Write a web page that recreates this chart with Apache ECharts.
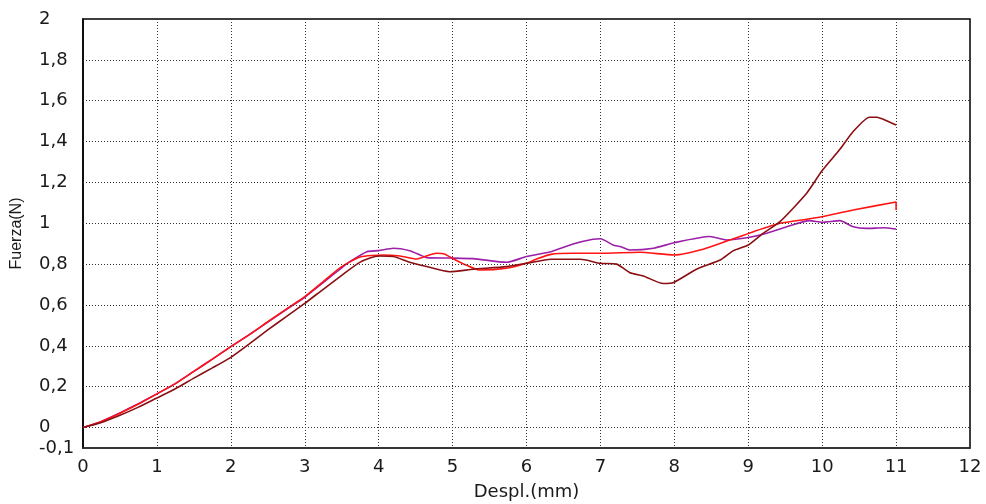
<!DOCTYPE html>
<html>
<head>
<meta charset="utf-8">
<script src="https://cdn.jsdelivr.net/npm/echarts@6/dist/echarts.min.js"></script>
<style>html,body{margin:0;padding:0;background:#fff;}#c{width:986px;height:504px;}</style>
</head>
<body>
<div id="c"></div>
<script>
// ---- Data ----
const darkX = [0,0.25,0.5,0.75,1,1.25,1.5,1.75,2,2.25,2.5,2.75,3,3.25,3.5,3.75,4,4.2,4.42,4.65,4.96,5.28,5.73,6,6.33,6.73,7,7.22,7.4,7.58,7.85,7.99,8.3,8.62,8.8,9,9.2,9.43,9.79,10,10.24,10.42,10.64,10.74,10.87,11];
const darkY = [0,0.025,0.06,0.1,0.145,0.19,0.242,0.292,0.344,0.41,0.478,0.543,0.608,0.677,0.745,0.81,0.84,0.837,0.809,0.788,0.763,0.775,0.788,0.804,0.824,0.824,0.804,0.8,0.758,0.742,0.705,0.71,0.775,0.82,0.866,0.894,0.951,1.008,1.147,1.258,1.362,1.449,1.519,1.519,1.502,1.481];

const redX = [0,0.25,0.5,0.75,1,1.25,1.5,1.75,2,2.25,2.5,2.75,3,3.25,3.5,3.75,4.06,4.29,4.51,4.6,4.78,4.89,5.0,5.18,5.36,5.73,6,6.13,6.33,6.63,7,7.53,8,8.39,8.75,9.07,9.43,9.79,10,10.42,11,11];
const redY = [0,0.03,0.07,0.115,0.165,0.215,0.275,0.335,0.396,0.455,0.518,0.58,0.641,0.715,0.788,0.835,0.845,0.84,0.825,0.834,0.853,0.85,0.828,0.796,0.771,0.78,0.804,0.824,0.848,0.853,0.853,0.858,0.845,0.873,0.918,0.959,1.0,1.02,1.032,1.065,1.104,1.065];

const purpleX = [0,0.25,0.5,0.75,1,1.25,1.5,1.75,2,2.25,2.5,2.75,3,3.25,3.5,3.61,3.84,4.0,4.2,4.42,4.56,4.65,4.96,5.28,5.73,6,6.33,6.63,6.9,7.0,7.17,7.27,7.4,7.72,8,8.48,8.71,9,9.25,9.52,9.83,10,10.24,10.42,10.6,10.83,11];
const purpleY = [0,0.03,0.072,0.117,0.165,0.215,0.275,0.335,0.396,0.455,0.516,0.578,0.638,0.71,0.782,0.812,0.861,0.866,0.878,0.866,0.845,0.832,0.83,0.827,0.809,0.837,0.861,0.899,0.922,0.924,0.894,0.886,0.869,0.878,0.905,0.935,0.918,0.93,0.951,0.983,1.013,1.005,1.013,0.983,0.975,0.978,0.972];

const yGridValues = [0,0.2,0.4,0.6,0.8,1,1.2,1.4,1.6,1.8];
const yLabelValues = [-0.1,0,0.2,0.4,0.6,0.8,1,1.2,1.4,1.6,1.8,2];
const xTitle = 'Despl.(mm)';
const yTitle = 'Fuerza(N)';

function pairs(xs, ys){ return xs.map((x,i)=>[x, ys[i]]); }

const chart = echarts.init(document.getElementById('c'), null, {renderer:'canvas'});
const dotted = {color:'#333', width:1, type:[1,2]};

chart.setOption({
  animation:false,
  backgroundColor:'#fff',
  grid:{left:83, right:16, top:19, bottom:56, containLabel:false, outerBoundsMode:'none',
        show:true, borderColor:'#000', borderWidth:1.5, backgroundColor:'transparent'},
  xAxis:{
    type:'value', min:0, max:12, interval:1,
    name:xTitle, nameLocation:'middle', nameGap:35,
    nameTextStyle:{fontFamily:'DejaVu Sans', fontSize:18, color:'#1a1a1a'},
    axisLine:{show:true, onZero:false, lineStyle:{color:'#333', width:1.5}},
    axisTick:{show:false},
    axisLabel:{fontFamily:'DejaVu Sans', fontSize:18, color:'#1a1a1a', margin:10},
    splitLine:{show:true, lineStyle:dotted}
  },
  yAxis:{
    type:'value', min:-0.1, max:2, interval:0.1,
    name:yTitle, nameLocation:'middle', nameGap:58, nameRotate:90,
    nameTextStyle:{fontFamily:'Liberation Sans', fontSize:16, color:'#1a1a1a'},
    axisLine:{show:true, onZero:false, lineStyle:{color:'#000', width:1.5}},
    axisTick:{show:false},
    axisLabel:{
      fontFamily:'DejaVu Sans', fontSize:18, color:'#1a1a1a', margin:44, align:'left',
      formatter:function(v){
        const r = Math.round(v*10)/10;
        const ok = yLabelValues.some(t=>Math.abs(t-r)<1e-6);
        if(!ok) return '';
        return String(r).replace('.', ',');
      }
    },
    splitLine:{show:false}
  },
  series:[
    {
      type:'line', name:'grid', data:[], silent:true,
      markLine:{silent:true, symbol:['none','none'], label:{show:false},
        lineStyle:dotted, animation:false,
        data:yGridValues.map(v=>({yAxis:v}))}
    },
    {type:'line', name:'A', data:pairs(purpleX,purpleY), showSymbol:false, smooth:0.2, lineStyle:{color:'#9c1fa8', width:1.6}, itemStyle:{color:'#9c1fa8'}, z:3},
    {type:'line', name:'B', data:pairs(redX,redY), showSymbol:false, smooth:0.2, lineStyle:{color:'#ff1414', width:1.6}, itemStyle:{color:'#ff1414'}, z:4},
    {type:'line', name:'C', data:pairs(darkX,darkY), showSymbol:false, smooth:0.2, lineStyle:{color:'#8a0f12', width:1.6}, itemStyle:{color:'#8a0f12'}, z:5}
  ]
});
</script>
</body>
</html>
